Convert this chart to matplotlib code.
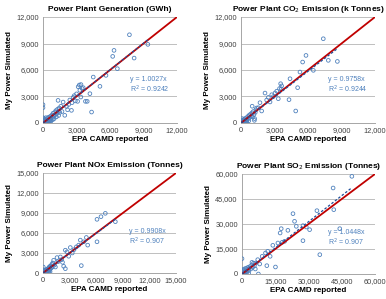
import matplotlib.pyplot as plt
from matplotlib.ticker import FuncFormatter

plt.rcParams['font.family'] = ['Liberation Sans', 'DejaVu Sans']

# ---- data ----
titles = ["Power Plant Generation (GWh)",
          "Power Plant CO$_2$ Emission (k Tonnes)",
          "Power Plant NOx Emission (Tonnes)",
          "Power Plant SO$_2$ Emission (Tonnes)"]
axis_max = [12000, 12000, 15000, 60000]
tick_step = [3000, 3000, 3000, 15000]
slopes = [1.0027, 0.9758, 0.9908, 1.0448]
r2_labels = ["0.9242", "0.9244", "0.907", "0.907"]

gen_x = [0, 50, 100, 150, 200, 250, 300, 350, 400, 450, 500, 550, 600, 650, 700, 750,
         800, 850, 900, 950, 1000, 1050, 1100, 1150, 1200, 1250, 1300, 1350, 1400, 1450,
         1500, 0, 0, 0, 20, 80, 150, 300, 500, 700, 120, 260, 420, 580, 900, 60,
         1600, 1700, 1800, 1350, 1950, 2100, 2200, 2300, 2400, 2550, 2600, 2700, 2800,
         2900, 3000, 3150, 3250, 3300, 3400, 3500, 3390, 3100, 3600, 3800, 3960, 4200,
         4350, 4500, 5100, 5640, 6660, 6240, 6360, 8160, 7740, 9390]
gen_y = [100, 300, 150, 400, 250, 100, 350, 200, 500, 300, 650, 400, 200, 750, 550, 300,
         900, 650, 1100, 800, 500, 1200, 950, 1400, 700, 1100, 1550, 1300, 850, 1700,
         1200, 2070, 1730, 600, 0, 50, 50, 0, 100, 200, 500, 600, 100, 300, 400, 200,
         1900, 1300, 2370, 2560, 870, 1880, 1500, 2100, 2600, 1430, 2300, 2900, 3100,
         2500, 3300, 4100, 4300, 3700, 4350, 3900, 2940, 2450, 4000, 2450, 2450, 3320,
         1240, 5200, 4150, 5390, 6150, 7540, 8220, 7350, 9990, 8900]

co2_x = [0, 40, 90, 140, 200, 250, 300, 350, 400, 450, 500, 560, 620, 680, 740, 800,
         860, 920, 980, 1040, 1100, 1160, 1220, 1280, 1340, 0, 60, 150, 300, 500,
         100, 220, 380, 520, 700,
         1400, 1550, 1850, 1700, 2150, 2300, 2450, 2600, 2750, 2900, 3050, 3200, 3340,
         3450, 3550, 3600, 3640, 4300, 4390, 4900, 5070, 5280, 5520, 5820, 6480, 7370,
         7820, 8630, 1200, 1000]
co2_y = [80, 250, 120, 300, 180, 400, 250, 500, 350, 200, 600, 450, 750, 500, 900, 650,
         1000, 800, 1150, 700, 1300, 950, 500, 1200, 1500, 300, 0, 50, 0, 100,
         500, 50, 150, 300, 250,
         1700, 1730, 1360, 2300, 3390, 2600, 2900, 2380, 3200, 3000, 3400, 3600, 2750,
         3900, 4450, 3880, 4200, 2640, 5010, 1360, 4000, 5770, 6900, 7650, 5960, 9540,
         7090, 6970, 300, 1900]

nox_x = [0, 50, 100, 150, 200, 250, 300, 350, 400, 450, 500, 550, 600, 650, 700, 750,
         800, 850, 900, 950, 1000, 1050, 1100, 0, 30, 100, 250, 400, 600, 800,
         120, 320, 480, 700,
         1200, 1580, 1960, 2330, 2520, 2520, 2710, 2900, 3080, 3760, 4020, 4210, 4320,
         4590, 4890, 5040, 6090, 6090, 6540, 7030, 8160, 1300, 1700, 2100, 2200, 3500,
         3300, 1400]
nox_y = [100, 250, 50, 300, 150, 400, 200, 500, 300, 150, 600, 400, 700, 350, 900, 500,
         1000, 650, 1100, 800, 1300, 900, 1500, 500, 900, 0, 0, 50, 100, 200,
         400, 100, 550, 250,
         1910, 2310, 2410, 1010, 650, 3420, 3170, 2510, 3820, 3920, 4180, 4930, 1110,
         4680, 5330, 4180, 8050, 4680, 8450, 8950, 7700, 1200, 1700, 2000, 1600, 3500,
         3000, 900]

so2_x = [0, 200, 400, 600, 800, 1000, 1200, 1500, 1800, 2100, 2400, 2700, 3000, 3300,
         3600, 4000, 4400, 4800, 5200, 5600, 0, 300, 1000, 2000, 3000, 0,
         6300, 7100, 7400, 9100, 10600, 11200, 11600, 12700, 13900, 15100, 16200, 17200,
         17700, 18100, 19200, 20700, 23000, 23700, 24500, 27500, 27500, 29000, 30500,
         33800, 35100, 41100, 41400, 44100, 49560, 4500, 6000, 8000]
so2_y = [500, 1500, 200, 2500, 1000, 3000, 500, 1800, 3500, 1200, 2800, 4000, 2000, 3500,
         4500, 3000, 5500, 4000, 6500, 5000, 2500, 0, 0, 0, 500, 9200,
         6600, 8600, 0, 10600, 12600, 5000, 13600, 10600, 17200, 4200, 18600, 24600,
         27200, 19000, 19600, 26200, 36200, 31600, 28600, 20000, 29000, 28200, 26600,
         38000, 11600, 51600, 38600, 27200, 58600, 7000, 3000, 6000]

xs = [gen_x, co2_x, nox_x, so2_x]
ys = [gen_y, co2_y, nox_y, so2_y]

fig = plt.figure(figsize=(3.86, 2.99), dpi=100)
W, H = 386, 299
# axes boxes in pixels: left, top, right, bottom
boxes = [(43, 17, 177, 123), (241, 17, 375, 123),
         (43, 173, 176, 273), (242, 174, 375, 274)]

fmt = FuncFormatter(lambda v, p: f"{int(v):,}")
blue = "#4F81BD"

for i in range(4):
    l, t, r, b = boxes[i]
    ax = fig.add_axes([l / W, 1 - b / H, (r - l) / W, (b - t) / H])
    m = axis_max[i]
    ax.scatter(xs[i], ys[i], s=7, facecolors="none", edgecolors=blue,
               linewidths=0.6, zorder=3)
    ax.plot([0, m], [0, m], color="#C00000", lw=1.3, zorder=4)
    xmax = max(xs[i])
    ax.plot([0, xmax], [0, slopes[i] * xmax], color="#1F4E9A", lw=0.9,
            ls=(0, (2, 1.5)), zorder=5)
    ax.set_xlim(0, m)
    ax.set_ylim(0, m)
    ticks = list(range(0, m + 1, tick_step[i]))
    ax.set_xticks(ticks)
    ax.set_yticks(ticks)
    ax.xaxis.set_major_formatter(fmt)
    ax.yaxis.set_major_formatter(fmt)
    ax.tick_params(labelsize=5.3, length=0, pad=3, colors="#404040")
    ax.grid(axis="y", color="#BFBFBF", lw=0.7)
    ax.set_axisbelow(True)
    for s in ["top", "right"]:
        ax.spines[s].set_visible(False)
    for s in ["left", "bottom"]:
        ax.spines[s].set_color("#A6A6A6")
        ax.spines[s].set_linewidth(0.7)
    ax.set_title(titles[i], fontsize=6.0, fontweight="bold", pad=4)
    ax.set_xlabel("EPA CAMD reported", fontsize=5.8, fontweight="bold", labelpad=1)
    ax.set_ylabel("My Power Simulated", fontsize=5.8, fontweight="bold", labelpad=2)
    ax.text(0.65, 0.415, f"y = {slopes[i]:.4f}x", transform=ax.transAxes,
            fontsize=5.0, color=blue, va="center")
    ax.text(0.65, 0.32, f"R$^2$ = {r2_labels[i]}", transform=ax.transAxes,
            fontsize=5.0, color=blue, va="center")

fig.savefig("out.png", dpi=100)
